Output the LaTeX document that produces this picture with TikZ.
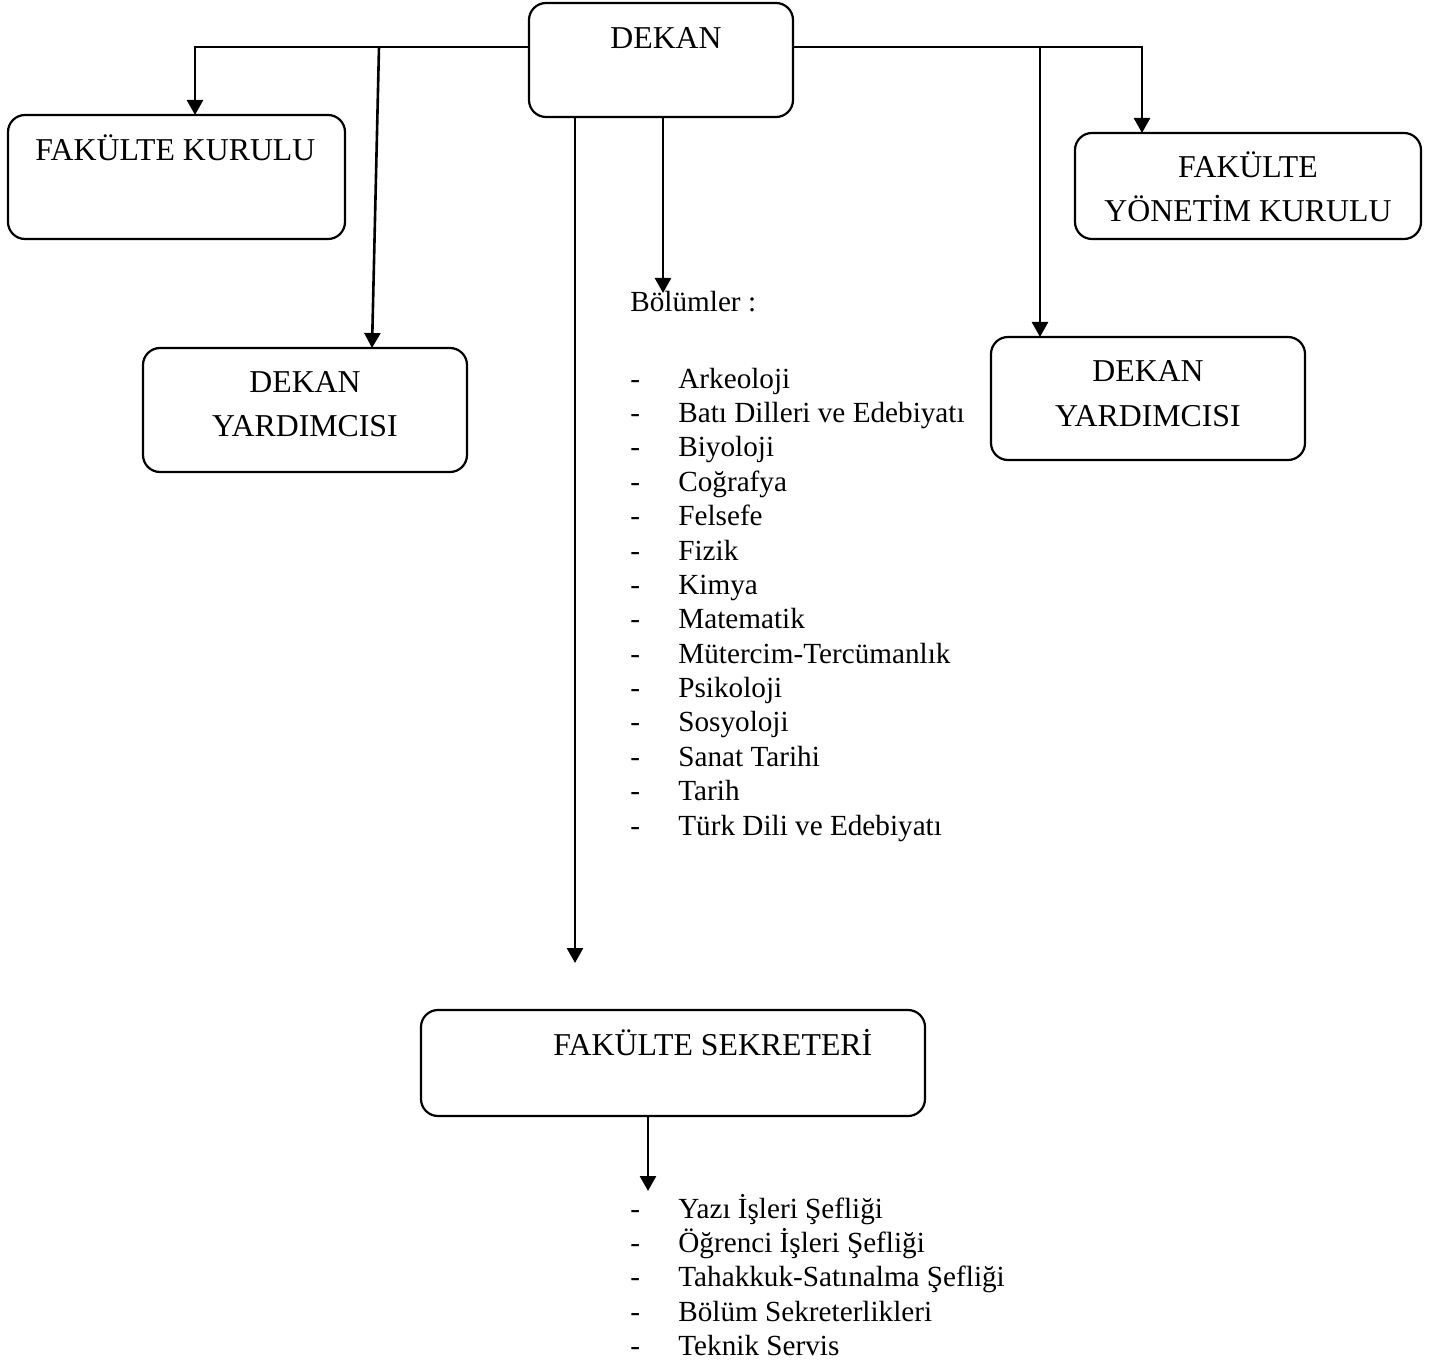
\documentclass[tikz,border=0pt]{standalone}
\usepackage{fontspec}
\setmainfont{Liberation Serif}
\usetikzlibrary{arrows.meta,calc}

\begin{document}
\begin{tikzpicture}[x=0.5pt,y=-0.5pt,
  kutu/.style={draw, rounded corners=8.5pt, line width=1.1pt, inner sep=0pt, outer sep=0pt, anchor=north west},
  yazi/.style={inner sep=0pt, align=center, font=\fontsize{15.9}{22}\selectfont},
  liste/.style={inner sep=0pt, anchor=base west, font=\fontsize{14.6}{17.2}\selectfont},
  ok/.style={line width=1.3pt, -{Triangle[width=8pt,length=7.5pt]}}]
\useasboundingbox (0,0) rectangle (1436,1364);

% kutular
\node[kutu, minimum width=132pt, minimum height=57pt] (dekan) at (529,3) {};
\node[kutu, minimum width=168.5pt, minimum height=62pt] (fk) at (8,115) {};
\node[kutu, minimum width=162pt, minimum height=62pt] (dyl) at (143,348) {};
\node[kutu, minimum width=173pt, minimum height=53pt] (fyk) at (1075,133) {};
\node[kutu, minimum width=157pt, minimum height=61.5pt] (dyr) at (991,337) {};
\node[kutu, minimum width=252pt, minimum height=53pt] (fs) at (421,1010) {};

% kutu yazilari
\node[yazi, anchor=base] (dekanyazi) at ($(dekan.north)+(5,46)$) {DEKAN};
\node[yazi, anchor=base west] (fkyazi) at ($(fk.north west)+(27,46)$) {FAKÜLTE KURULU};
\node[yazi, anchor=base] (dylyazi) at ($(dyl.north)+(0,89)$) {DEKAN\\YARDIMCISI};
\node[yazi, anchor=base] (fykyazi) at ($(fyk.north)+(0,89)$) {FAKÜLTE\\YÖNETİM KURULU};
\node[yazi, anchor=base] (dyryazi) at ($(dyr.north)+(0,89)$) {DEKAN\\YARDIMCISI};
\node[yazi, anchor=base west] (fsyazi) at ($(fs.north west)+(132,45)$) {FAKÜLTE SEKRETERİ};

% listeler
\node[liste] (bolumler) at (630,312) {Bölümler :};
\node[liste] (bolumliste) at (630,388) {\begin{tabular}[t]{@{}p{24pt}@{}l@{}}
- & Arkeoloji\\
- & Batı Dilleri ve Edebiyatı\\
- & Biyoloji\\
- & Coğrafya\\
- & Felsefe\\
- & Fizik\\
- & Kimya\\
- & Matematik\\
- & Mütercim-Tercümanlık\\
- & Psikoloji\\
- & Sosyoloji\\
- & Sanat Tarihi\\
- & Tarih\\
- & Türk Dili ve Edebiyatı
\end{tabular}};
\node[liste] (birimler) at (630,1218) {\begin{tabular}[t]{@{}p{24pt}@{}l@{}}
- & Yazı İşleri Şefliği\\
- & Öğrenci İşleri Şefliği\\
- & Tahakkuk-Satınalma Şefliği\\
- & Bölüm Sekreterlikleri\\
- & Teknik Servis
\end{tabular}};

% baglantilar
\coordinate (hat) at (0,47);
\coordinate (k1) at (195,47);
\coordinate (k2) at (379,47);
\coordinate (k3) at (1040,47);
\coordinate (k4) at (1142,47);
\coordinate (k5) at (575,963);
\coordinate (k6) at (663,293);
\coordinate (k7) at (648,1191);
\draw[ok] (dekan.west |- hat) -- (k1) -- (k1 |- fk.north);
\draw[ok] (k2) -- ($(dyl.north west)+(229,0)$);
\draw[ok] (dekan.east |- hat) -- (k4) -- (k4 |- fyk.north);
\draw[ok] (k3) -- (k3 |- dyr.north);
\draw[ok] (k5 |- dekan.south) -- (k5);
\draw[ok] (k6 |- dekan.south) -- (k6);
\draw[ok] (k7 |- fs.south) -- (k7);
\end{tikzpicture}
\end{document}
